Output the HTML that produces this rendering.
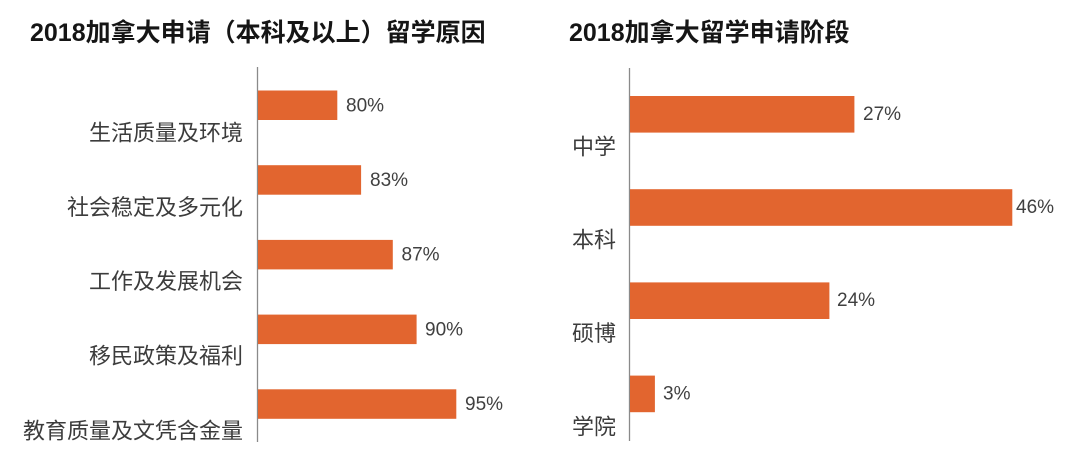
<!DOCTYPE html>
<html>
<head>
<meta charset="utf-8">
<style>
  html,body{margin:0;padding:0;background:#fff;}
  svg{display:block;}
  .t{font-family:"Liberation Sans","Noto Sans CJK SC",sans-serif;font-weight:700;font-size:25px;fill:#151515;}
  .c{font-family:"Liberation Sans","Noto Sans CJK SC",sans-serif;font-size:22px;fill:#3c3c3c;}
  .p{font-family:"Liberation Sans","Noto Sans CJK SC",sans-serif;font-size:19px;fill:#404040;}
</style>
</head>
<body>
<svg width="1080" height="464" viewBox="0 0 1080 464" xmlns="http://www.w3.org/2000/svg">
  <rect x="0" y="0" width="1080" height="464" fill="#ffffff"/>

  <!-- Titles -->
  <text class="t" x="30" y="33" dominant-baseline="central">2018加拿大申请（本科及以上）留学原因</text>
  <text class="t" x="569" y="33" dominant-baseline="central">2018加拿大留学申请阶段</text>

  <!-- Left chart -->
  <line x1="257.5" y1="67" x2="257.5" y2="442" stroke="#8a8a8a" stroke-width="1.3"/>
  <g fill="#E2652F">
    <rect x="258" y="90.5" width="79.3" height="29.5"/>
    <rect x="258" y="165.2" width="103.1" height="29.5"/>
    <rect x="258" y="239.9" width="134.8" height="29.5"/>
    <rect x="258" y="314.6" width="158.6" height="29.5"/>
    <rect x="258" y="389.3" width="198.3" height="29.5"/>
  </g>
  <g class="p" dominant-baseline="central">
    <text class="p" x="346" y="106" dominant-baseline="central">80%</text>
    <text class="p" x="370" y="180.5" dominant-baseline="central">83%</text>
    <text class="p" x="401.5" y="255" dominant-baseline="central">87%</text>
    <text class="p" x="425" y="330" dominant-baseline="central">90%</text>
    <text class="p" x="465" y="404.5" dominant-baseline="central">95%</text>
  </g>
  <text class="c" x="243" y="133" text-anchor="end" dominant-baseline="central">生活质量及环境</text>
  <text class="c" x="243" y="207.5" text-anchor="end" dominant-baseline="central">社会稳定及多元化</text>
  <text class="c" x="243" y="281.5" text-anchor="end" dominant-baseline="central">工作及发展机会</text>
  <text class="c" x="243" y="356" text-anchor="end" dominant-baseline="central">移民政策及福利</text>
  <text class="c" x="243" y="431" text-anchor="end" dominant-baseline="central">教育质量及文凭含金量</text>

  <!-- Right chart -->
  <line x1="629.5" y1="68" x2="629.5" y2="441" stroke="#8a8a8a" stroke-width="1.3"/>
  <g fill="#E2652F">
    <rect x="630" y="96" width="224.4" height="36.6"/>
    <rect x="630" y="189.2" width="382.3" height="36.6"/>
    <rect x="630" y="282.4" width="199.4" height="36.6"/>
    <rect x="630" y="375.6" width="24.9" height="36.6"/>
  </g>
  <text class="p" x="863" y="114.5" dominant-baseline="central">27%</text>
  <text class="p" x="1016" y="207.5" dominant-baseline="central">46%</text>
  <text class="p" x="837" y="300.5" dominant-baseline="central">24%</text>
  <text class="p" x="663" y="394" dominant-baseline="central">3%</text>

  <text class="c" x="616" y="147" text-anchor="end" dominant-baseline="central">中学</text>
  <text class="c" x="616" y="240" text-anchor="end" dominant-baseline="central">本科</text>
  <text class="c" x="616" y="333.5" text-anchor="end" dominant-baseline="central">硕博</text>
  <text class="c" x="616" y="427" text-anchor="end" dominant-baseline="central">学院</text>
</svg>
</body>
</html>
